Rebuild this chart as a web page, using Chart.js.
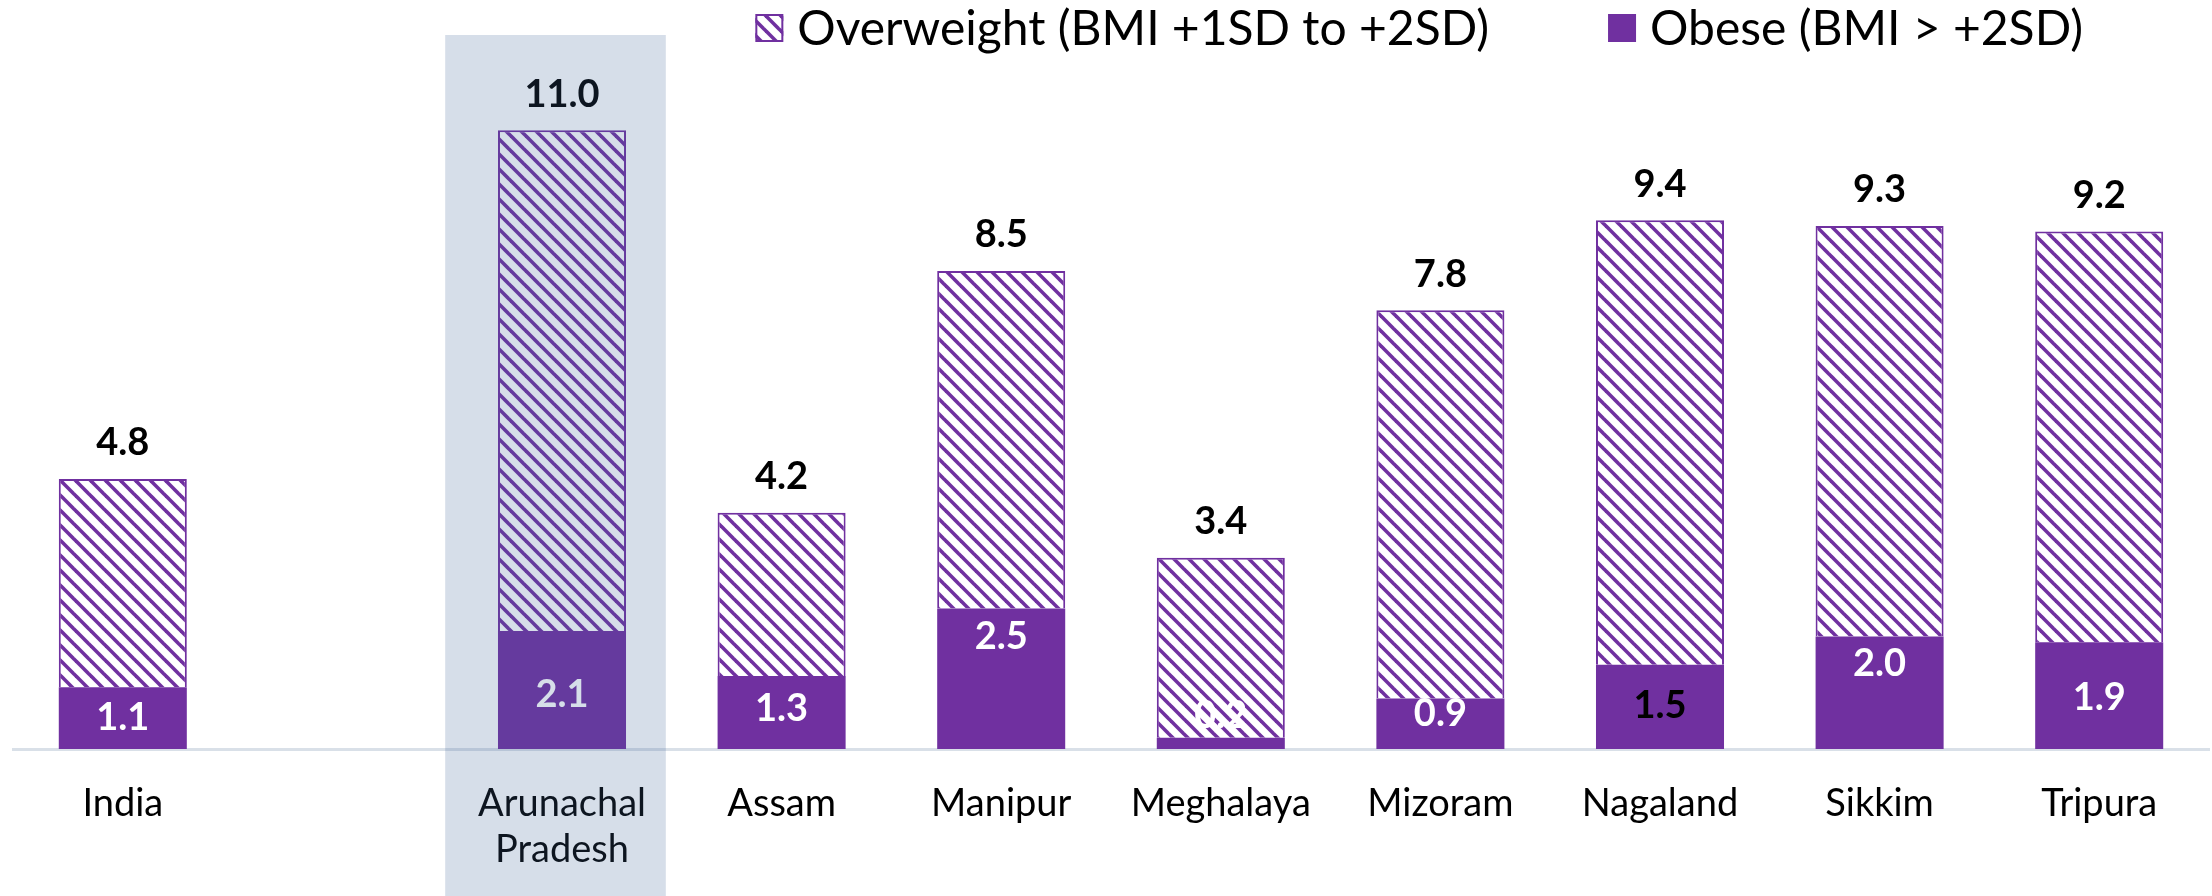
<!DOCTYPE html>
<html lang="en">
  <head>
    <meta charset="UTF-8" />
    <meta name="viewport" content="width=device-width, initial-scale=1.0" />
    <script src="https://cdn.jsdelivr.net/npm/chart.js@4.4.1/dist/chart.umd.min.js"></script>
    <style>
      html,
      body {
        margin: 0;
        padding: 0;
        background: #ffffff;
      }
      #wrap {
        position: relative;
        width: 2212px;
        height: 896px;
      }
    </style>
  </head>
  <body>
    <div id="wrap">
      <canvas id="myChart"></canvas>
    </div>

    <script>
      // chart values
      const categories = [
        "India",
        "",
        ["Arunachal", "Pradesh"],
        "Assam",
        "Manipur",
        "Meghalaya",
        "Mizoram",
        "Nagaland",
        "Sikkim",
        "Tripura",
      ];
      const obese = [1.1, null, 2.1, 1.3, 2.5, 0.2, 0.9, 1.5, 2.0, 1.9];
      const overweight = [3.7, null, 8.9, 2.9, 6.0, 3.2, 6.9, 7.9, 7.3, 7.3];
      const seriesNames = ["Overweight (BMI +1SD to +2SD)", "Obese (BMI > +2SD)"];
      const highlightIndex = 2;

      const purple = "#7030A0";
      Chart.defaults.font.family = "Lato, 'Open Sans', sans-serif";

      // diagonal hatch like the Excel "wide downward diagonal" fill
      function makeHatch(color) {
        const p = 15;
        const c = document.createElement("canvas");
        c.width = p;
        c.height = p;
        const g = c.getContext("2d");
        g.fillStyle = "#ffffff";
        g.fillRect(0, 0, p, p);
        g.strokeStyle = color;
        g.lineWidth = 3.6;
        for (const k of [-1, 0, 1]) {
          g.beginPath();
          g.moveTo(k * p - 2, -2);
          g.lineTo(k * p + p + 2, p + 2);
          g.stroke();
        }
        return g.createPattern(c, "repeat");
      }
      const hatch = makeHatch(purple);

      // value labels: totals above, obese share inside the solid part
      const barLabels = {
        id: "barLabels",
        afterDatasetsDraw(chart, args, opts) {
          const ctx = chart.ctx;
          const low = chart.getDatasetMeta(0);
          const high = chart.getDatasetMeta(1);
          ctx.save();
          ctx.textAlign = "center";
          ctx.textBaseline = "middle";
          ctx.font = "bold 38px Lato";
          obese.forEach((v, i) => {
            if (v == null) return;
            const b = low.data[i];
            const t = high.data[i];
            ctx.fillStyle = opts.innerColors[i] || "#ffffff";
            ctx.fillText(v.toFixed(1), b.x, (b.y + b.base) / 2 + opts.nudge[i]);
            ctx.fillStyle = "#000000";
            ctx.fillText((v + overweight[i]).toFixed(1), t.x, t.y - opts.topGap);
          });
          ctx.restore();
        },
      };

      // legend (right aligned, top) + highlight band over Arunachal Pradesh
      const decor = {
        id: "decor",
        afterDraw(chart, args, opts) {
          const ctx = chart.ctx;
          ctx.save();
          ctx.font = "48px Lato";
          ctx.textBaseline = "alphabetic";
          ctx.textAlign = "left";
          const items = chart.data.datasets.slice().reverse();
          let right = chart.width - opts.legendRight;
          const box = 28;
          for (let i = items.length - 1; i >= 0; i--) {
            const ds = items[i];
            const w = ctx.measureText(ds.label).width;
            const tx = right - w;
            ctx.fillStyle = "#000000";
            ctx.fillText(ds.label, tx, opts.legendBaseline);
            const bx = tx - 14 - box;
            const by = opts.legendBaseline - 17 - box / 2;
            ctx.fillStyle = ds.backgroundColor;
            ctx.fillRect(bx, by, box, box);
            if (ds.borderWidth) {
              ctx.strokeStyle = purple;
              ctx.lineWidth = 2;
              ctx.strokeRect(bx + 1, by + 1, box - 2, box - 2);
            }
            right = bx - 119;
          }

          const x = chart.scales.x;
          const cw = x.width / categories.length;
          const cx = x.getPixelForValue(highlightIndex);
          ctx.fillStyle = "rgba(61, 99, 151, 0.21)";
          ctx.fillRect(cx - cw / 2 - 7, 35, cw + 1, chart.height - 35);
          ctx.restore();
        },
      };

      const ctx = document.getElementById("myChart").getContext("2d");
      const myChart = new Chart(ctx, {
        type: "bar",
        data: {
          labels: categories,
          datasets: [
            {
              label: seriesNames[1],
              data: obese,
              backgroundColor: purple,
              borderWidth: 0,
              barPercentage: 0.583,
              categoryPercentage: 1,
            },
            {
              label: seriesNames[0],
              data: overweight,
              backgroundColor: hatch,
              borderColor: purple,
              borderWidth: 2,
              barPercentage: 0.583,
              categoryPercentage: 1,
            },
          ],
        },
        options: {
          responsive: true,
          maintainAspectRatio: false,
          animation: false,
          layout: {
            padding: { top: 74, left: 13, right: 3, bottom: 0 },
          },
          plugins: {
            legend: { display: false },
            tooltip: { enabled: false },
            barLabels: {
              topGap: 36,
              nudge: [0, 0, 5, -4, -42, -28, -10, -1, -29, 2],
              innerColors: [null, null, null, null, null, null, null, "#000000"],
            },
            decor: { legendRight: 129, legendBaseline: 45 },
          },
          scales: {
            x: {
              stacked: true,
              grid: { display: false, drawTicks: false },
              border: { display: true, color: "#d9e0e8", width: 3 },
              ticks: {
                color: "#000000",
                font: { size: 38 },
                padding: 32,
                maxRotation: 0,
                autoSkip: false,
              },
              afterFit(scale) {
                scale.height = 147;
              },
            },
            y: {
              stacked: true,
              display: false,
              min: 0,
              max: 12,
            },
          },
        },
        plugins: [barLabels, decor],
      });
    </script>
  </body>
</html>
